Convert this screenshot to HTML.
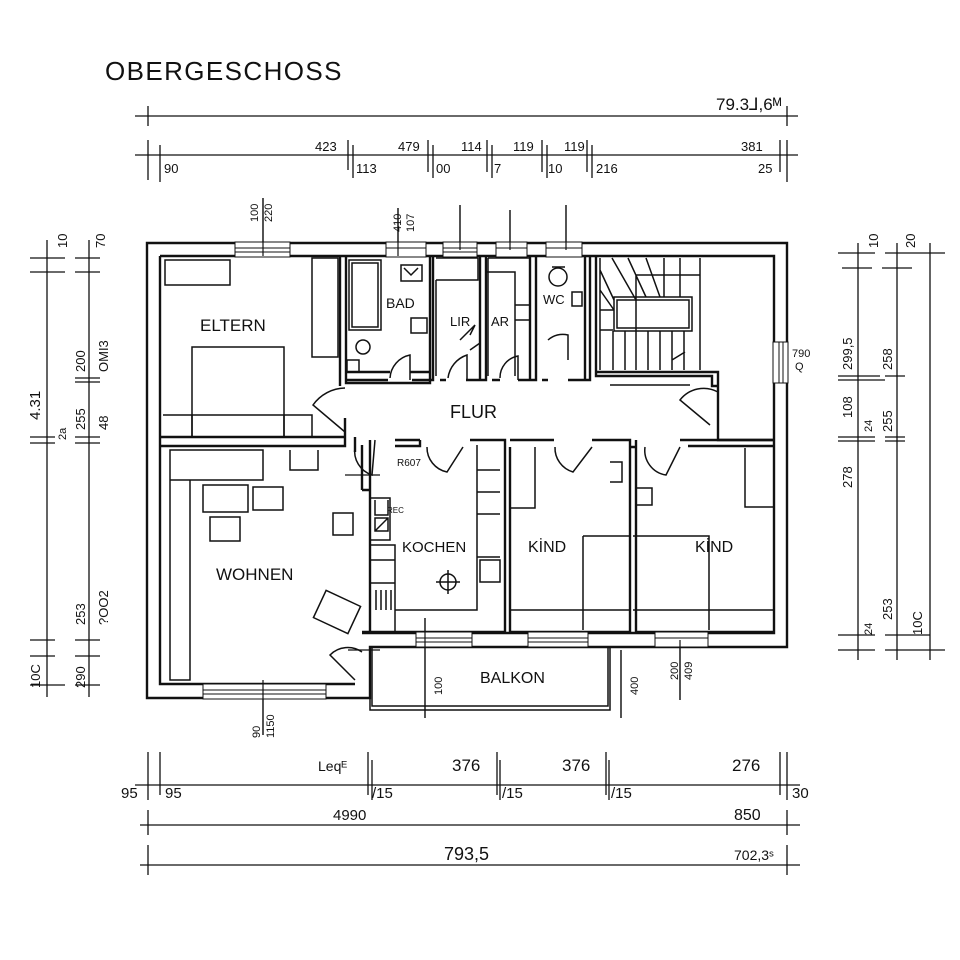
<!DOCTYPE html>
<html><head><meta charset="utf-8"><style>
html,body{margin:0;padding:0;background:#fff;}
svg{display:block;}
text{font-family:"Liberation Sans",sans-serif;fill:#111;}
</style></head><body>
<svg width="960" height="960" viewBox="0 0 960 960" xmlns="http://www.w3.org/2000/svg">
<rect width="960" height="960" fill="#fff"/>
<text x="105" y="80" font-size="26" letter-spacing="1.4">OBERGESCHOSS</text>

<g stroke="#111" stroke-width="1.3" fill="none">
<line x1="135" y1="116" x2="798" y2="116"/>
<line x1="148" y1="106" x2="148" y2="126"/><line x1="787" y1="106" x2="787" y2="126"/>
<line x1="135" y1="155" x2="798" y2="155"/>
<path d="M148 140V180M160 145V182M348 140V170M353 145V178M428 140V172M433 145V178M487 140V172M492 145V178M542 140V172M547 145V178M587 140V172M592 145V178M780 140V172M787 140V182"/>
<line x1="135" y1="785" x2="800" y2="785"/>
<path d="M148 752V800M160 752V795M368 752V795M372 760V800M497 752V795M500 760V800M606 752V795M609 760V800M780 752V795M787 752V800"/>
<line x1="140" y1="825" x2="800" y2="825"/>
<path d="M148 810V835M787 810V835"/>
<line x1="140" y1="865" x2="800" y2="865"/>
<path d="M148 845V875M787 845V875"/>
<path d="M47 240V697M89 240V697"/>
<path d="M30 258H65M75 258H100M30 272H65M75 272H100M30 437H55M75 437H100M30 443H55M75 443H100M75 378H100M75 382H100M30 640H55M75 640H100M30 656H55M75 656H100M30 685H65M75 685H100"/>
<path d="M858 243V660M897 243V660M930 243V660"/>
<path d="M838 253H875M885 253H945M842 268H872M882 268H912M838 376H880M838 380H885M885 376H905M838 437H875M885 437H905M838 441H875M885 441H905M838 635H875M885 635H930M838 650H875M885 650H945"/>
<path d="M263 198V256M398 208V256M460 205V250M510 210V250M566 205V250M263 690V735M425 618V718M621 650V718M680 640V700M348 650H380M345 475H380"/>
</g>

<g font-size="13">
<text x="315" y="151">423</text><text x="398" y="151">479</text><text x="461" y="151">114</text><text x="513" y="151">119</text><text x="564" y="151">119</text><text x="741" y="151">381</text>
<text x="164" y="173">90</text><text x="356" y="173">113</text><text x="436" y="173">00</text><text x="494" y="173">7</text><text x="548" y="173">10</text><text x="596" y="173">216</text><text x="758" y="173">25</text>
<text x="716" y="110" font-size="17">79.3⅃,6ᴹ</text>
<text x="318" y="771" font-size="14">Leqᴱ</text>
<text x="452" y="771" font-size="17">376</text><text x="562" y="771" font-size="17">376</text><text x="732" y="771" font-size="17">276</text>
<text x="121" y="798" font-size="15">95</text><text x="165" y="798" font-size="15">95</text><text x="372" y="798" font-size="15">/15</text><text x="502" y="798" font-size="15">/15</text><text x="611" y="798" font-size="15">/15</text><text x="792" y="798" font-size="15">30</text>
<text x="333" y="820" font-size="15">4990</text><text x="734" y="820" font-size="16">850</text>
<text x="444" y="860" font-size="18">793,5</text><text x="734" y="860" font-size="14">702,3ˢ</text>
</g>

<g font-size="13">
<text transform="translate(40,420) rotate(-90)" font-size="15">4.31</text>
<text transform="translate(67,248) rotate(-90)">10</text>
<text transform="translate(105,248) rotate(-90)">70</text>
<text transform="translate(85,372) rotate(-90)">200</text>
<text transform="translate(108,372) rotate(-90)">OMI3</text>
<text transform="translate(85,430) rotate(-90)">255</text>
<text transform="translate(108,430) rotate(-90)">48</text>
<text transform="translate(66,440) rotate(-90)" font-size="11">2a</text>
<text transform="translate(85,625) rotate(-90)">253</text>
<text transform="translate(108,625) rotate(-90)">?OO2</text>
<text transform="translate(40,688) rotate(-90)">10C</text>
<text transform="translate(85,688) rotate(-90)">290</text>
<text transform="translate(878,248) rotate(-90)">10</text>
<text transform="translate(915,248) rotate(-90)">20</text>
<text transform="translate(852,370) rotate(-90)">299,5</text>
<text transform="translate(892,370) rotate(-90)">258</text>
<text transform="translate(852,418) rotate(-90)">108</text>
<text transform="translate(872,432) rotate(-90)" font-size="11">24</text>
<text transform="translate(892,432) rotate(-90)">255</text>
<text transform="translate(852,488) rotate(-90)">278</text>
<text transform="translate(892,620) rotate(-90)">253</text>
<text transform="translate(872,635) rotate(-90)" font-size="11">24</text>
<text transform="translate(922,635) rotate(-90)">10C</text>
<text transform="translate(258,222) rotate(-90)" font-size="11">100</text>
<text transform="translate(272,222) rotate(-90)" font-size="11">220</text>
<text transform="translate(401,232) rotate(-90)" font-size="11">410</text>
<text transform="translate(414,232) rotate(-90)" font-size="11">107</text>
<text transform="translate(260,738) rotate(-90)" font-size="11">90</text>
<text transform="translate(274,738) rotate(-90)" font-size="11">1150</text>
<text transform="translate(442,695) rotate(-90)" font-size="11">100</text>
<text transform="translate(638,695) rotate(-90)" font-size="11">400</text>
<text transform="translate(678,680) rotate(-90)" font-size="11">200</text>
<text transform="translate(692,680) rotate(-90)" font-size="11">409</text>
<text x="792" y="357" font-size="11">790</text><text x="795" y="370" font-size="11">Q</text>
</g>

<g stroke="#111" stroke-width="2.4" fill="none">
<path d="M147 243H787V647H370V698H147Z"/>
<path d="M160 256H774V633H362M160 256V684H355"/>
<path d="M370 698V710H610V647M372 647V706H608V647" stroke-width="1.5"/>
<path d="M160 437H345V418M160 446H345V430M340 256V386M346 256V383H430V256"/>
<path d="M345 372H390M410 372H430M345 380H388M412 380H433V256M440 380H446M466 380H486V256M480 256V380M492 380H500M518 380H536V256M530 256V380M542 380H548M568 380H590V256M585 256V380M596 256V376H712V386H718V372H596M718 386V440H774"/>
<path d="M355 437V452M362 445V490M362 490H370V632M370 490V440M395 440H420M395 446H420V440M470 440H505V632M510 440H554M510 447V632M505 447V632M592 440H630V632M636 440V632M630 447H636M680 440H774M688 446H774"/>
<path d="M362 632H505M510 632H630M636 632H774"/>
</g>

<g fill="#fff" stroke="#111" stroke-width="1">
<rect x="235" y="242" width="55" height="15"/><line x1="235" y1="248" x2="290" y2="248"/><line x1="235" y1="252" x2="290" y2="252"/>
<rect x="386" y="242" width="40" height="15"/><line x1="386" y1="248" x2="426" y2="248"/>
<rect x="443" y="242" width="34" height="15"/><line x1="443" y1="248" x2="477" y2="248"/><line x1="443" y1="252" x2="477" y2="252"/>
<rect x="496" y="242" width="31" height="15"/><line x1="496" y1="248" x2="527" y2="248"/>
<rect x="546" y="242" width="36" height="15"/><line x1="546" y1="248" x2="582" y2="248"/>
<rect x="773" y="342" width="15" height="41"/><line x1="779" y1="342" x2="779" y2="383"/><line x1="783" y1="342" x2="783" y2="383"/>
<rect x="416" y="632" width="56" height="15"/><line x1="416" y1="638" x2="472" y2="638"/><line x1="416" y1="642" x2="472" y2="642"/>
<rect x="528" y="632" width="60" height="15"/><line x1="528" y1="638" x2="588" y2="638"/><line x1="528" y1="642" x2="588" y2="642"/>
<rect x="655" y="632" width="53" height="15"/><line x1="655" y1="638" x2="708" y2="638"/>
<rect x="203" y="684" width="123" height="15"/><line x1="203" y1="690" x2="326" y2="690"/><line x1="203" y1="694" x2="326" y2="694"/>
</g>
<path d="M263 198V256M398 208V256M460 205V250M510 210V250M566 205V250M263 680V735M425 618V718M621 650V718M680 640V700" stroke="#111" stroke-width="1.2"/>

<g stroke="#111" stroke-width="1.5" fill="none">
<rect x="165" y="260" width="65" height="25"/>
<rect x="312" y="258" width="26" height="99"/>
<rect x="192" y="347" width="92" height="90"/>
<path d="M163 415H312V437M192 415V437M284 415V437"/>
<rect x="349" y="260" width="32" height="70"/><rect x="352" y="263" width="26" height="64"/>
<circle cx="363" cy="347" r="7"/><rect x="347" y="360" width="12" height="12"/>
<rect x="401" y="265" width="21" height="16"/><path d="M404 268L411 275L418 268"/>
<rect x="411" y="318" width="16" height="15"/>
<path d="M436 258H478V280H436M436 280V376"/>
<path d="M488 258H530M488 258V376M487 272H515V376M515 305H530M515 320H530"/>
<ellipse cx="558" cy="277" rx="9" ry="9"/><path d="M552 267H565"/>
<rect x="572" y="292" width="10" height="14"/>
<rect x="617" y="300" width="72" height="28"/><rect x="614" y="297" width="78" height="34"/>
<path d="M600 258V370M636 275V370M636 275H700M700 258V370M613 331V370M625 331V370M648 331V370M660 331V370M672 331V370M684 331V370M600 270L614 300M600 290L614 310M600 310H614M600 330H613M612 258L636 300M628 258L646 297M646 258L660 297M664 258V297M680 258V297M610 385H690M672 360L685 352"/>
<path d="M170 450H263V480H170ZM170 480H190V680H170ZM290 450V470H318V450M203 485H248V512H203ZM253 487H283V510H253ZM210 517H240V541H210Z"/>
<rect x="333" y="513" width="20" height="22"/>
<rect x="318" y="597" width="38" height="30" transform="rotate(25 337 612)"/>
<path d="M370 498H390V540H370M375 500V515H388V500M375 518H388V531H375ZM375 531L388 518M370 545H395V633M370 560H395M370 583H395M376 590V610M381 590V610M386 590V610M391 590V610M395 610H477V445M477 470H500M477 492H500M477 514H500M477 557H500M480 560H500V582H480Z"/>
<circle cx="448" cy="582" r="8"/><path d="M436 582H460M448 570V594"/>
<path d="M510 447V508H535V447M583 536H630M583 536V630M510 610H630M633 536H709V630M633 610H774M745 448V507H773M610 462H622V482H610M635 488H652V505H635"/>
</g>

<g stroke="#111" stroke-width="1.5" fill="none">
<path d="M345 388A40 40 0 0 0 313 405L345 432"/>
<path d="M390 378A25 25 0 0 1 410 355V380"/>
<path d="M448 378A28 28 0 0 1 467 355V380"/>
<path d="M500 378A22 22 0 0 1 518 356V380"/>
<path d="M548 340A22 22 0 0 1 568 335V360"/>
<path d="M355 447A25 25 0 0 0 372 475L375 440"/>
<path d="M427 447A25 25 0 0 0 447 472L463 447"/>
<path d="M555 447A25 25 0 0 0 573 472L592 447"/>
<path d="M645 447A25 25 0 0 0 666 475L680 447"/>
<path d="M718 392A30 30 0 0 0 680 400L710 425"/>
<path d="M362 652A25 25 0 0 0 330 655L355 680"/>
<path d="M460 340L475 325L470 335M470 350L480 343"/>
</g>

<g>
<text x="200" y="331" font-size="17">ELTERN</text>
<text x="386" y="308" font-size="14">BAD</text>
<text x="450" y="326" font-size="13">LIR</text>
<text x="491" y="326" font-size="13">AR</text>
<text x="543" y="304" font-size="13">WC</text>
<text x="450" y="418" font-size="18">FLUR</text>
<text x="402" y="552" font-size="15">KOCHEN</text>
<text x="528" y="552" font-size="16">KİND</text>
<text x="695" y="552" font-size="16">KİND</text>
<text x="216" y="580" font-size="17">WOHNEN</text>
<text x="480" y="683" font-size="16">BALKON</text>
<text x="387" y="513" font-size="8">REC</text>
<text x="397" y="466" font-size="10">R607</text>
</g>
</svg>
</body></html>
